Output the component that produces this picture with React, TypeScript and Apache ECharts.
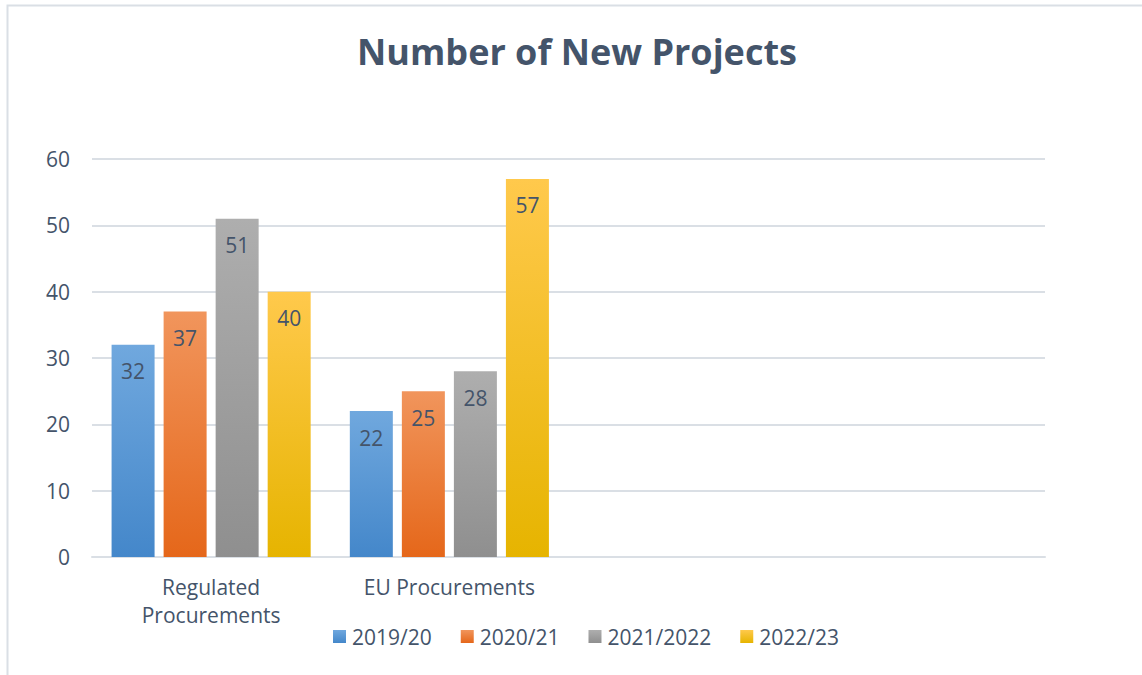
import React, { useEffect, useRef } from "react";
import * as echarts from "echarts";

const categories = ["Regulated\nProcurements", "EU Procurements", "", ""];
const seriesNames = ["2019/20", "2020/21", "2021/2022", "2022/23"];
const values2019 = [32, 22, null, null];
const values2020 = [37, 25, null, null];
const values2021 = [51, 28, null, null];
const values2022 = [40, 57, null, null];
const yTicks = { min: 0, max: 60, interval: 10 };

const gradTop = ["#70a8de", "#f1955c", "#aeaeae", "#ffc94c"];
const gradBottom = ["#4487ca", "#e5671a", "#8f8f8f", "#e6b400"];

const FONT = "'Open Sans', sans-serif";
const TEXT = "#44546a";

export default function App() {
  const ref = useRef<HTMLDivElement>(null);
  useEffect(() => {
    if (!ref.current) return;
    const chart = echarts.init(ref.current, undefined, { renderer: "svg" });
    const all = [values2019, values2020, values2021, values2022];
    chart.setOption({
      animation: false,
      backgroundColor: "#ffffff",
      textStyle: { fontFamily: FONT },
      title: {
        text: "Number of New Projects",
        left: 572,
        textAlign: "center",
        top: 28,
        textStyle: { fontFamily: FONT, fontSize: 36, fontWeight: "bold", color: TEXT },
      },
      graphic: [
        {
          type: "rect",
          shape: { x: 7.5, y: 5.5, width: 1160, height: 700 },
          style: { fill: "none", stroke: "#dadfe5", lineWidth: 2 },
          silent: true,
        },
      ],
      legend: {
        bottom: 23,
        left: 328,
        itemWidth: 13,
        itemHeight: 13,
        itemGap: 29,
        icon: "rect",
        textStyle: { fontFamily: FONT, fontSize: 21, color: TEXT, padding: [0, 0, 0, 1] },
        data: seriesNames,
      },
      grid: { left: 92, right: 97, top: 159, bottom: 118, containLabel: false },
      xAxis: {
        type: "category",
        data: categories,
        axisLine: { lineStyle: { color: "#dadfe5", width: 2 } },
        axisTick: { show: false },
        axisLabel: {
          fontFamily: FONT,
          fontSize: 21,
          color: TEXT,
          lineHeight: 28,
          margin: 16,
          interval: 0,
        },
      },
      yAxis: {
        type: "value",
        min: yTicks.min,
        max: yTicks.max,
        interval: yTicks.interval,
        axisLine: { show: false },
        axisTick: { show: false },
        splitLine: { lineStyle: { color: "#dadfe5", width: 2 } },
        axisLabel: { fontFamily: FONT, fontSize: 21, color: TEXT, margin: 22 },
      },
      series: seriesNames.map((name, i) => ({
        name,
        type: "bar",
        data: all[i],
        barWidth: 43,
        barGap: "21%",
        itemStyle: {
          color: new echarts.graphic.LinearGradient(0, 0, 0, 1, [
            { offset: 0, color: gradTop[i] },
            { offset: 1, color: gradBottom[i] },
          ]),
        },
        label: {
          show: true,
          position: "insideTop",
          distance: 16,
          fontFamily: FONT,
          fontSize: 21,
          color: TEXT,
        },
      })),
    });
    return () => chart.dispose();
  }, []);
  return (
    <div
      ref={ref}
      style={{ position: "fixed", left: 0, top: 0, width: 1142, height: 675 }}
    />
  );
}
